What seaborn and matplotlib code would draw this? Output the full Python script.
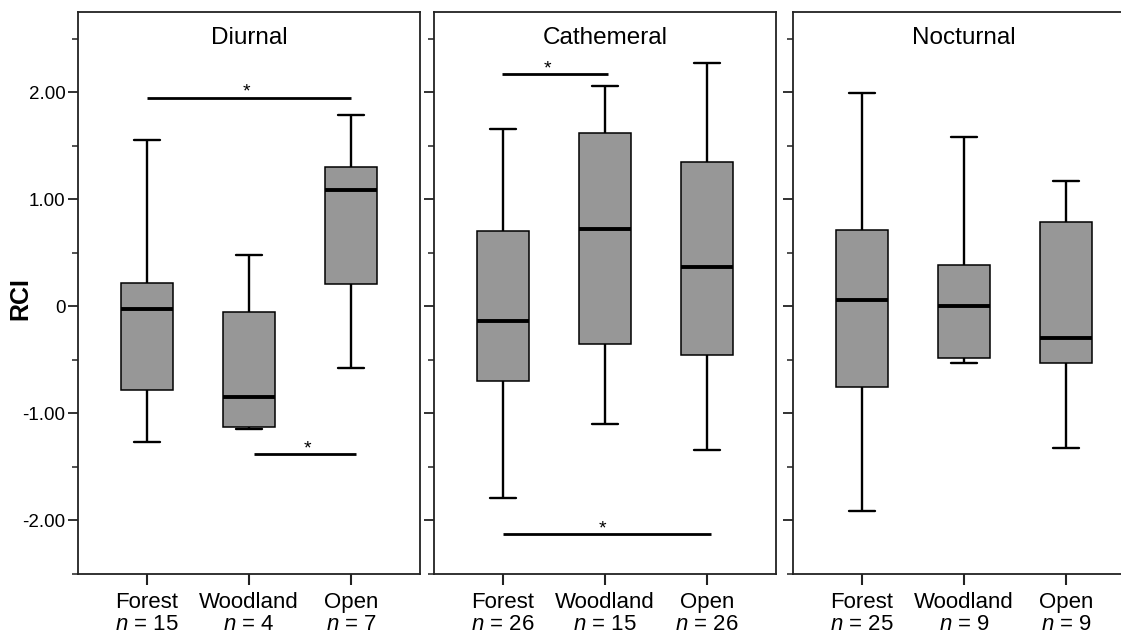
import numpy as np
import pandas as pd
import matplotlib
matplotlib.use("Agg")
import matplotlib.pyplot as plt
from matplotlib.ticker import FixedLocator, FixedFormatter
import seaborn as sns

# ---------------- data ----------------
habitats = ["Forest", "Woodland", "Open"]
panels = ["Diurnal", "Cathemeral", "Nocturnal"]

n_diurnal = [15, 4, 7]
n_cathemeral = [26, 15, 26]
n_nocturnal = [25, 9, 9]

# five-number summaries: [min, Q1, median, Q3, max]
diurnal_forest = [-1.27, -0.785, -0.02, 0.22, 1.55]
diurnal_woodland = [-1.15, -1.13, -0.85, -0.05, 0.48]
diurnal_open = [-0.58, 0.21, 1.09, 1.30, 1.79]

cathemeral_forest = [-1.79, -0.70, -0.14, 0.70, 1.66]
cathemeral_woodland = [-1.10, -0.35, 0.72, 1.62, 2.06]
cathemeral_open = [-1.34, -0.45, 0.37, 1.35, 2.27]

nocturnal_forest = [-1.91, -0.75, 0.06, 0.71, 1.99]
nocturnal_woodland = [-0.53, -0.48, 0.00, 0.39, 1.58]
nocturnal_open = [-1.32, -0.53, -0.30, 0.79, 1.17]

# significance bars: (panel, x_start, x_end, y, star_x)
sig_panel = ["Diurnal", "Diurnal", "Cathemeral", "Cathemeral"]
sig_x0 = [0.0, 1.05, -0.01, 0.0]
sig_x1 = [2.0, 2.05, 1.03, 2.04]
sig_y = [1.95, -1.38, 2.17, -2.13]
sig_star_x = [0.98, 1.57, 0.44, 0.98]

ytick_values = [-2, -1, 0, 1, 2]
ytick_labels = ["-2.00", "-1.00", "0", "1.00", "2.00"]
yminor_values = [-2.5, -1.5, -0.5, 0.5, 1.5, 2.5]

summaries = {
    "Diurnal": [diurnal_forest, diurnal_woodland, diurnal_open],
    "Cathemeral": [cathemeral_forest, cathemeral_woodland, cathemeral_open],
    "Nocturnal": [nocturnal_forest, nocturnal_woodland, nocturnal_open],
}
counts = {"Diurnal": n_diurnal, "Cathemeral": n_cathemeral, "Nocturnal": n_nocturnal}

rows = []
for p in panels:
    for h, vals in zip(habitats, summaries[p]):
        for v in vals:
            rows.append({"activity": p, "habitat": h, "rci": v})
df = pd.DataFrame(rows)

# ---------------- style ----------------
sns.set_style("ticks")
plt.rcParams["font.family"] = ["Liberation Sans", "DejaVu Sans"]
plt.rcParams["mathtext.fontset"] = "custom"
plt.rcParams["mathtext.rm"] = "Liberation Sans"
plt.rcParams["mathtext.it"] = "Liberation Sans:italic"
plt.rcParams["text.color"] = "black"
plt.rcParams["xtick.labelcolor"] = "black"
plt.rcParams["ytick.labelcolor"] = "black"
plt.rcParams["axes.labelcolor"] = "black"

W, H = 1121, 636
fig = plt.figure(figsize=(W / 100, H / 100), dpi=100)

box_gray = "#979797"
panel_lefts = [78, 434, 793]
panel_w = 342
top_px, bot_px = 12, 574

for i, p in enumerate(panels):
    ax = fig.add_axes([panel_lefts[i] / W, 1 - bot_px / H, panel_w / W, (bot_px - top_px) / H])
    sub = df[df["activity"] == p]
    sns.boxplot(
        data=sub, x="habitat", y="rci", order=habitats, ax=ax,
        color=box_gray, saturation=1, linecolor="black", linewidth=1.1,
        width=0.51, whis=(0, 100), showfliers=False,
        medianprops=dict(linewidth=2.8, color="black"),
        whiskerprops=dict(linewidth=1.7, color="black"),
        capprops=dict(linewidth=1.7, color="black"),
    )
    ax.set_xlim(-0.675, 2.675)
    ax.set_ylim(-2.5, 2.75)
    ax.set_xlabel("")
    ax.set_ylabel("")
    for s in ax.spines.values():
        s.set_visible(True)
        s.set_linewidth(1.3)
        s.set_color("#222222")

    ax.yaxis.set_major_locator(FixedLocator(ytick_values))
    ax.yaxis.set_minor_locator(FixedLocator(yminor_values))
    ax.tick_params(axis="y", which="major", direction="out", length=7, width=1.3, color="#222222")
    ax.tick_params(axis="y", which="minor", direction="out", length=4, width=1.1, color="#222222")
    ax.tick_params(axis="x", which="major", direction="out", length=8, width=1.5, color="#222222",
                   pad=5, labelsize=16, labelcolor="black")
    if i == 0:
        ax.yaxis.set_major_formatter(FixedFormatter(ytick_labels))
        ax.tick_params(axis="y", labelsize=13.5, pad=2, labelcolor="black")
        ax.set_ylabel("RCI", fontsize=18, fontweight="bold", color="black")
        ax.yaxis.set_label_coords(-0.133, 0.49)
    else:
        ax.set_yticklabels([])

    labels = [f"{h}\n$n$ = {n}" for h, n in zip(habitats, counts[p])]
    ax.set_xticks(range(len(habitats)))
    ax.set_xticklabels(labels, linespacing=1.05)

    ax.text(0.5, 0.953, p, transform=ax.transAxes, ha="center", va="center", fontsize=17.5,
            color="black")

    for sp, x0, x1, y, sx in zip(sig_panel, sig_x0, sig_x1, sig_y, sig_star_x):
        if sp != p:
            continue
        ax.plot([x0, x1], [y, y], color="black", linewidth=2.0, solid_capstyle="butt")
        ax.annotate("*", xy=(sx, y), xytext=(0, 0.5), textcoords="offset points",
                    ha="center", va="baseline", fontsize=14, color="black")

fig.savefig("out.png", dpi=100)
